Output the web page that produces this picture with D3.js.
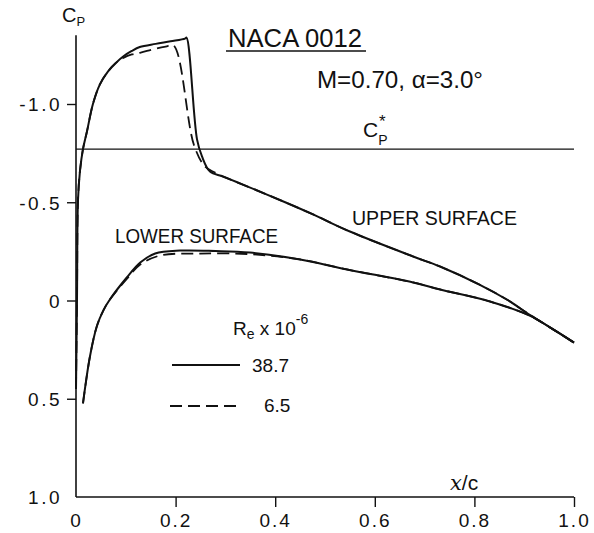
<!DOCTYPE html>
<html>
<head>
<meta charset="utf-8">
<script src="https://cdn.jsdelivr.net/npm/d3@7"></script>
<style>
  html, body { margin: 0; padding: 0; background: #fff; }
  svg { display: block; }
  text { font-family: "Liberation Sans", Arial, sans-serif; fill: #111; }
</style>
</head>
<body>
<svg id="chart" width="594" height="533"></svg>
<script>
// NACA 0012 pressure distribution, M = 0.70, alpha = 3.0 deg

// Re = 38.7e6 (solid)
const hiUpperX  = [0.000, 0.002, 0.004, 0.008, 0.014, 0.022, 0.034, 0.048, 0.064, 0.080, 0.096, 0.112, 0.128, 0.160, 0.190, 0.219, 0.222, 0.243, 0.253, 0.269, 0.295, 0.335, 0.420, 0.476, 0.550, 0.677, 0.731, 0.811, 0.865, 0.912, 0.955, 1.000];
const hiUpperCp = [0.45, 0.00, -0.51, -0.66, -0.77, -0.86, -1.00, -1.10, -1.165, -1.209, -1.244, -1.270, -1.290, -1.306, -1.319, -1.333, -1.338, -0.82, -0.733, -0.656, -0.631, -0.590, -0.500, -0.438, -0.351, -0.224, -0.173, -0.080, -0.005, 0.074, 0.142, 0.214];
const hiLowerX  = [0.014, 0.028, 0.042, 0.055, 0.068, 0.102, 0.129, 0.159, 0.209, 0.280, 0.349, 0.450, 0.544, 0.677, 0.731, 0.831, 0.912, 0.955, 1.000];
const hiLowerCp = [0.524, 0.285, 0.130, 0.050, -0.005, -0.117, -0.193, -0.239, -0.254, -0.252, -0.244, -0.209, -0.158, -0.092, -0.056, 0.005, 0.078, 0.142, 0.214];

// Re = 6.5e6 (dashed)
const loUpperX  = [0.000, 0.002, 0.004, 0.008, 0.014, 0.022, 0.034, 0.048, 0.064, 0.080, 0.096, 0.112, 0.130, 0.157, 0.180, 0.196, 0.237, 0.259, 0.279, 0.295, 0.335, 0.420, 0.476, 0.550, 0.677, 0.731, 0.811, 0.865, 0.912, 0.955, 1.000];
const loUpperCp = [0.45, 0.00, -0.51, -0.66, -0.77, -0.86, -1.00, -1.10, -1.165, -1.209, -1.236, -1.252, -1.262, -1.280, -1.292, -1.298, -0.79, -0.682, -0.651, -0.631, -0.590, -0.500, -0.438, -0.351, -0.224, -0.173, -0.080, -0.005, 0.074, 0.142, 0.214];
const loLowerX  = [0.014, 0.028, 0.042, 0.055, 0.068, 0.102, 0.129, 0.169, 0.249, 0.349, 0.450, 0.544, 0.677, 0.731, 0.831, 0.912, 0.955, 1.000];
const loLowerCp = [0.524, 0.285, 0.130, 0.050, -0.005, -0.110, -0.183, -0.229, -0.239, -0.236, -0.209, -0.158, -0.092, -0.056, 0.005, 0.078, 0.142, 0.214];

// critical pressure coefficient
const cpStar = -0.77;

const xTicks = [0, 0.2, 0.4, 0.6, 0.8, 1.0];
const xTickLabels = ["0", "0.2", "0.4", "0.6", "0.8", "1.0"];
const yTicks = [-1.0, -0.5, 0, 0.5, 1.0];
const yTickLabels = ["-1.0", "-0.5", "0", "0.5", "1.0"];
const legendValues = ["38.7", "6.5"];

const svg = d3.select("#chart");
const x = d3.scaleLinear().domain([0, 1]).range([76, 574]);
const y = d3.scaleLinear().domain([-1, 1]).range([104, 497]);
const yTop = -1.35;
const ink = "#111";

const pts = (xs, cs) => xs.map((v, i) => [v, cs[i]]);
const line = d3.line().x(d => x(d[0])).y(d => y(d[1])).curve(d3.curveCatmullRom.alpha(0.5));

// axes
const yAxis = d3.axisLeft(y).tickValues(yTicks).tickSize(9).tickPadding(5)
  .tickFormat((d, i) => yTickLabels[i]);
const gy = svg.append("g").attr("transform", `translate(${x(0)},0)`).call(yAxis);
gy.select(".domain").remove();
gy.selectAll(".tick line").attr("stroke", ink).attr("stroke-width", 1.4)
  .filter(d => d === 1.0).remove();
gy.selectAll(".tick text").attr("font-size", 19).attr("letter-spacing", 2.5)
  .attr("dy", "0.36em").attr("fill", ink).attr("font-family", "Liberation Sans, Arial, sans-serif");

const xAxis = d3.axisBottom(x).tickValues(xTicks).tickSize(10).tickPadding(7)
  .tickFormat((d, i) => xTickLabels[i]);
const gx = svg.append("g").attr("transform", `translate(0,${y(1)})`).call(xAxis);
gx.select(".domain").remove();
gx.selectAll(".tick line").attr("stroke", ink).attr("stroke-width", 1.4)
  .filter(d => d === 0).remove();
gx.selectAll(".tick text").attr("font-size", 19).attr("letter-spacing", 2)
  .attr("fill", ink).attr("font-family", "Liberation Sans, Arial, sans-serif");

svg.append("line").attr("x1", x(0)).attr("x2", x(0)).attr("y1", y(yTop)).attr("y2", y(1))
  .attr("stroke", ink).attr("stroke-width", 1.6);
svg.append("line").attr("x1", x(0)).attr("x2", x(1)).attr("y1", y(1)).attr("y2", y(1))
  .attr("stroke", ink).attr("stroke-width", 1.6);

// Cp* line
svg.append("line").attr("x1", x(0)).attr("x2", x(1)).attr("y1", y(cpStar)).attr("y2", y(cpStar))
  .attr("stroke", ink).attr("stroke-width", 1.3);

// curves
const curves = svg.append("g").attr("fill", "none").attr("stroke", ink)
  .attr("stroke-linejoin", "round");
curves.append("path").attr("d", line(pts(hiUpperX, hiUpperCp))).attr("stroke-width", 2);
curves.append("path").attr("d", line(pts(hiLowerX, hiLowerCp))).attr("stroke-width", 2);
curves.append("path").attr("d", line(pts(loUpperX, loUpperCp))).attr("stroke-width", 1.8)
  .attr("stroke-dasharray", "12,6");
curves.append("path").attr("d", line(pts(loLowerX, loLowerCp))).attr("stroke-width", 1.8)
  .attr("stroke-dasharray", "12,6");

// labels
svg.append("text").attr("x", 62).attr("y", 22).attr("font-size", 20)
  .text("C").append("tspan").attr("font-size", 13).attr("dy", 4).text("P");

svg.append("text").attr("x", 228).attr("y", 47).attr("font-size", 25)
  .attr("textLength", 134).attr("lengthAdjust", "spacingAndGlyphs").text("NACA 0012");
svg.append("line").attr("x1", 226).attr("x2", 366).attr("y1", 51).attr("y2", 51)
  .attr("stroke", ink).attr("stroke-width", 1.5);

svg.append("text").attr("x", 317).attr("y", 88).attr("font-size", 23)
  .attr("textLength", 166).attr("lengthAdjust", "spacingAndGlyphs").text("M=0.70, α=3.0°");

// C_P with star above the subscript
const cs = svg.append("text").attr("x", 363).attr("y", 137).attr("font-size", 21);
cs.append("tspan").text("C");
cs.append("tspan").attr("font-size", 14).attr("dy", 8).text("P");
svg.append("text").attr("x", 379).attr("y", 127).attr("font-size", 17).text("*");

svg.append("text").attr("x", 115).attr("y", 243).attr("font-size", 20)
  .attr("textLength", 163).attr("lengthAdjust", "spacingAndGlyphs").text("LOWER SURFACE");
svg.append("text").attr("x", 352).attr("y", 225).attr("font-size", 20)
  .attr("textLength", 165).attr("lengthAdjust", "spacingAndGlyphs").text("UPPER SURFACE");

// legend
const lt = svg.append("text").attr("x", 233).attr("y", 335).attr("font-size", 19);
lt.append("tspan").text("R");
lt.append("tspan").attr("font-size", 14).attr("dy", 4).text("e");
lt.append("tspan").attr("dy", -4).text(" x 10");
lt.append("tspan").attr("font-size", 14).attr("dy", -11).text("-6");

svg.append("line").attr("x1", 172).attr("x2", 240).attr("y1", 365).attr("y2", 365)
  .attr("stroke", ink).attr("stroke-width", 2);
svg.append("text").attr("x", 252).attr("y", 372).attr("font-size", 19).text(legendValues[0]);
svg.append("line").attr("x1", 170).attr("x2", 242).attr("y1", 406).attr("y2", 406)
  .attr("stroke", ink).attr("stroke-width", 1.8).attr("stroke-dasharray", "12,6");
svg.append("text").attr("x", 264).attr("y", 412).attr("font-size", 19).text(legendValues[1]);

// x/c axis title
const xt = svg.append("text").attr("x", 450).attr("y", 490).attr("font-size", 21);
xt.append("tspan").attr("font-style", "italic").attr("font-family", "DejaVu Serif, serif").text("x");
xt.append("tspan").text("/c");
</script>
</body>
</html>
